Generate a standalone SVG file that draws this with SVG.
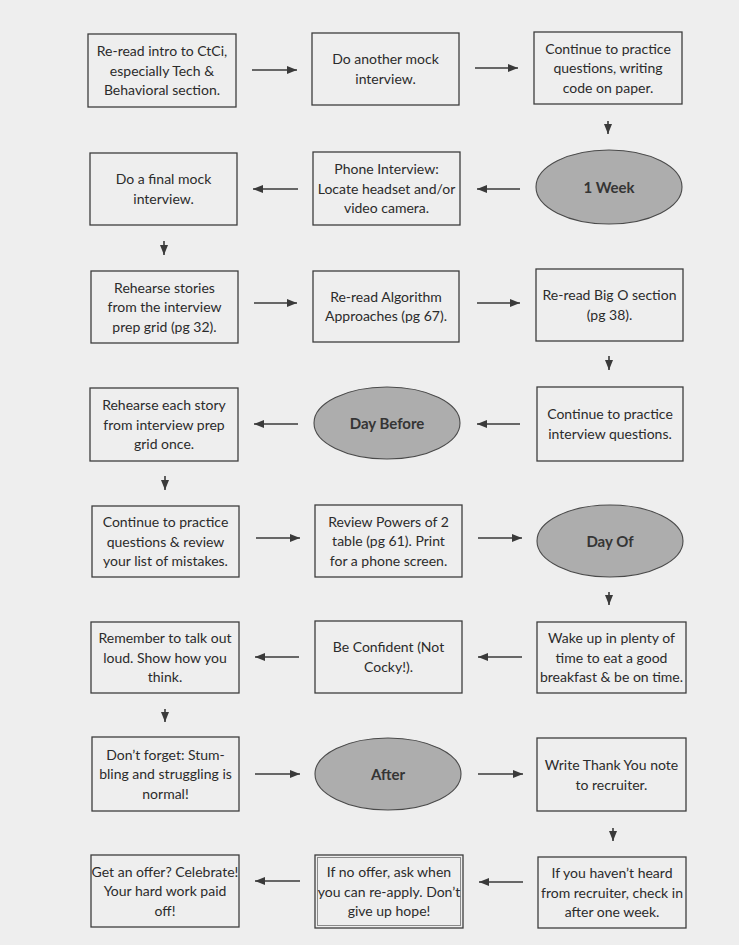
<svg xmlns="http://www.w3.org/2000/svg" width="739" height="945" viewBox="0 0 739 945">
<style>
.bx{fill:none;stroke:#3e3e3e;stroke-width:1.3}
.el{fill:#adadad;stroke:#4a4a4a;stroke-width:1.1}
.t{font-family:Lato,"Open Sans",sans-serif;font-size:14px;fill:#2b2b2b;text-anchor:middle}
.b{font-family:Lato,"Open Sans",sans-serif;font-size:15px;font-weight:bold;fill:#353535;text-anchor:middle}
.cn line{stroke:#3a3a3a;stroke-width:1.6;marker-end:url(#ah)}
</style>
<defs>
<marker id="ah" markerUnits="userSpaceOnUse" markerWidth="10" markerHeight="8" refX="10" refY="4" orient="auto">
<path d="M0,0 L10,4 L0,8 z" fill="#3a3a3a"/>
</marker>
</defs>
<rect width="739" height="945" fill="#eeeeee"/>

<g id="n1"><rect class="bx" x="88" y="34" width="148" height="73"/><text class="t" x="162"><tspan x="162" y="56">Re-read intro to CtCi,</tspan><tspan x="162" y="75.5">especially Tech &amp;</tspan><tspan x="162" y="95">Behavioral section.</tspan></text></g>
<g id="n2"><rect class="bx" x="312" y="33" width="147" height="72"/><text class="t"><tspan x="385.5" y="64">Do another mock</tspan><tspan x="385.5" y="83.5">interview.</tspan></text></g>
<g id="n3"><rect class="bx" x="534" y="32" width="148" height="72"/><text class="t"><tspan x="608" y="53.5">Continue to practice</tspan><tspan x="608" y="73">questions, writing</tspan><tspan x="608" y="92.5">code on paper.</tspan></text></g>

<g id="n4"><ellipse class="el" cx="609" cy="187" rx="73" ry="37"/><text class="b" x="609" y="192.5">1 Week</text></g>
<g id="n5"><rect class="bx" x="313" y="152" width="147" height="73"/><text class="t"><tspan x="386.5" y="174">Phone Interview:</tspan><tspan x="386.5" y="193.5">Locate headset and/or</tspan><tspan x="386.5" y="213">video camera.</tspan></text></g>
<g id="n6"><rect class="bx" x="90" y="153" width="147" height="72"/><text class="t"><tspan x="163.5" y="184">Do a final mock</tspan><tspan x="163.5" y="203.5">interview.</tspan></text></g>

<g id="n7"><rect class="bx" x="91" y="271" width="147" height="72"/><text class="t"><tspan x="164.5" y="292.5">Rehearse stories</tspan><tspan x="164.5" y="312">from the interview</tspan><tspan x="164.5" y="331.5">prep grid (pg 32).</tspan></text></g>
<g id="n8"><rect class="bx" x="313" y="271" width="146" height="71"/><text class="t"><tspan x="386" y="301.5">Re-read Algorithm</tspan><tspan x="386" y="321">Approaches (pg 67).</tspan></text></g>
<g id="n9"><rect class="bx" x="536" y="269" width="147" height="72"/><text class="t"><tspan x="609.5" y="300">Re-read Big O section</tspan><tspan x="609.5" y="319.5">(pg 38).</tspan></text></g>

<g id="n10"><rect class="bx" x="537" y="387" width="146" height="74"/><text class="t"><tspan x="610" y="419">Continue to practice</tspan><tspan x="610" y="438.5">interview questions.</tspan></text></g>
<g id="n11"><ellipse class="el" cx="387" cy="423" rx="73" ry="36"/><text class="b" x="387" y="428.5">Day Before</text></g>
<g id="n12"><rect class="bx" x="90" y="388" width="148" height="73"/><text class="t"><tspan x="164" y="410">Rehearse each story</tspan><tspan x="164" y="429.5">from interview prep</tspan><tspan x="164" y="449">grid once.</tspan></text></g>

<g id="n13"><rect class="bx" x="92" y="506" width="147" height="71"/><text class="t"><tspan x="165.5" y="527">Continue to practice</tspan><tspan x="165.5" y="546.5">questions &amp; review</tspan><tspan x="165.5" y="566">your list of mistakes.</tspan></text></g>
<g id="n14"><rect class="bx" x="315" y="505" width="147" height="72"/><text class="t"><tspan x="388.5" y="526.5">Review Powers of 2</tspan><tspan x="388.5" y="546">table (pg 61). Print</tspan><tspan x="388.5" y="565.5">for a phone screen.</tspan></text></g>
<g id="n15"><ellipse class="el" cx="610" cy="541" rx="73" ry="36"/><text class="b" x="610" y="546.5">Day Of</text></g>

<g id="n16"><rect class="bx" x="537" y="622" width="149" height="71"/><text class="t"><tspan x="611.5" y="643">Wake up in plenty of</tspan><tspan x="611.5" y="662.5">time to eat a good</tspan><tspan x="611.5" y="682">breakfast &amp; be on time.</tspan></text></g>
<g id="n17"><rect class="bx" x="315" y="621" width="147" height="72"/><text class="t"><tspan x="388.5" y="652">Be Confident (Not</tspan><tspan x="388.5" y="671.5">Cocky!).</tspan></text></g>
<g id="n18"><rect class="bx" x="91" y="622" width="148" height="71"/><text class="t"><tspan x="165" y="643">Remember to talk out</tspan><tspan x="165" y="662.5">loud. Show how you</tspan><tspan x="165" y="682">think.</tspan></text></g>

<g id="n19"><rect class="bx" x="92" y="737" width="147" height="74"/><text class="t"><tspan x="165.5" y="759.5">Don’t forget: Stum-</tspan><tspan x="165.5" y="779">bling and struggling is</tspan><tspan x="165.5" y="798.5">normal!</tspan></text></g>
<g id="n20"><ellipse class="el" cx="388" cy="774" rx="73" ry="36"/><text class="b" x="388" y="779.5">After</text></g>
<g id="n21"><rect class="bx" x="537" y="738" width="149" height="73"/><text class="t"><tspan x="611.5" y="770">Write Thank You note</tspan><tspan x="611.5" y="789.5">to recruiter.</tspan></text></g>

<g id="n22"><rect class="bx" x="538" y="857" width="148" height="71"/><text class="t"><tspan x="612" y="878">If you haven’t heard</tspan><tspan x="612" y="897.5">from recruiter, check in</tspan><tspan x="612" y="917">after one week.</tspan></text></g>
<g id="n23"><rect class="bx" x="315" y="855" width="148" height="73"/><rect x="317.5" y="857.5" width="143" height="68" fill="none" stroke="#8a8a8a" stroke-width="1"/><text class="t"><tspan x="389" y="877">If no offer, ask when</tspan><tspan x="389" y="896.5">you can re-apply. Don’t</tspan><tspan x="389" y="916">give up hope!</tspan></text></g>
<g id="n24"><rect class="bx" x="91" y="855" width="148" height="72"/><text class="t"><tspan x="165" y="876.5">Get an offer? Celebrate!</tspan><tspan x="165" y="896">Your hard work paid</tspan><tspan x="165" y="915.5">off!</tspan></text></g>

<g id="connectors" class="cn">
<line x1="252" y1="70" x2="297" y2="70"/>
<line x1="475" y1="68" x2="518" y2="68"/>
<line x1="608" y1="121" x2="608" y2="134"/>
<line x1="520" y1="189" x2="477" y2="189"/>
<line x1="298" y1="189" x2="253" y2="189"/>
<line x1="164" y1="241" x2="164" y2="255"/>
<line x1="254" y1="303" x2="297" y2="303"/>
<line x1="477" y1="303" x2="520" y2="303"/>
<line x1="609" y1="356" x2="609" y2="370"/>
<line x1="520" y1="424" x2="477" y2="424"/>
<line x1="298" y1="424" x2="254" y2="424"/>
<line x1="165" y1="476" x2="165" y2="490"/>
<line x1="256" y1="538" x2="300" y2="538"/>
<line x1="478" y1="538" x2="522" y2="538"/>
<line x1="609" y1="592" x2="609" y2="605"/>
<line x1="522" y1="657" x2="478" y2="657"/>
<line x1="299" y1="657" x2="255" y2="657"/>
<line x1="165" y1="709" x2="165" y2="722"/>
<line x1="255" y1="774" x2="300" y2="774"/>
<line x1="478" y1="774" x2="523" y2="774"/>
<line x1="613" y1="828" x2="613" y2="841"/>
<line x1="523" y1="882" x2="479" y2="882"/>
<line x1="300" y1="881" x2="255" y2="881"/>
</g>
</svg>
